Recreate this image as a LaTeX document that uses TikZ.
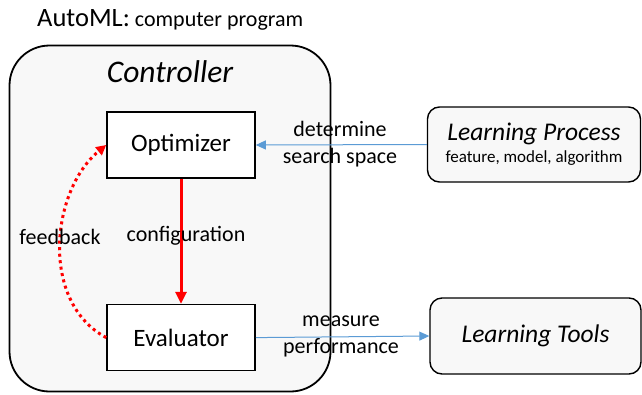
\documentclass[tikz,border=0pt]{standalone}
\usepackage{fontspec}
\setmainfont{Carlito}
\usepackage{tikz}
\usetikzlibrary{arrows.meta, positioning}
\definecolor{blaa}{HTML}{5B9BD5}
\definecolor{lysgraa}{HTML}{F8F8F8}

\begin{document}
\begin{tikzpicture}[
    x=1pt, y=-1pt,
    node distance = 5mm and 5mm,
    boks/.style = {rectangle, draw, line width=1.6pt, fill=white, minimum width=148pt, minimum height=66pt, font=\fontsize{25}{28}\selectfont},
    rund/.style = {rectangle, rounded corners=12pt, draw, line width=1.4pt, fill=lysgraa, minimum height=75pt, align=center},
    pil/.style = {blaa, line width=1pt, -{Triangle[length=10pt,width=9pt]}},
    rpil/.style = {red, line width=3pt, -{Triangle[length=12pt,width=11pt]}},
    prikk/.style = {red, line width=3pt, dash pattern=on 3pt off 3.5pt, -{Triangle[length=10pt,width=10pt]}},
    txt/.style = {font=\fontsize{22}{27}\selectfont, align=center, inner sep=0pt}
    ]
  \useasboundingbox (0,0) rectangle (642,394);

  \node[anchor=west, inner sep=0pt] (tittel) at (37,20) {{\fontsize{26.5}{28}\selectfont AutoML:}{\fontsize{22}{24}\selectfont{} computer program}};

  \node[rectangle, rounded corners=40pt, draw, line width=1.8pt, fill=lysgraa, minimum width=321pt, minimum height=346pt] (ctrl) at (170,218.5) {};
  \node[font=\fontsize{31.5}{34}\selectfont\itshape] (ctrltxt) at (170,72) {Controller};

  \node[boks] (opt) at (181,145) {Optimizer};
  \node[boks] (eval) [below=125pt of opt] {Evaluator};

  \node[rund, minimum width=213pt] (lp) at (534,144.5) {{\fontsize{25.5}{30}\selectfont\itshape Learning Process}\\[5pt]{\fontsize{17}{20}\selectfont feature, model, algorithm}};
  \node[rund, minimum width=211pt, minimum height=76pt, font=\fontsize{25.5}{30}\selectfont\itshape] (lt) at (535.5,336) {Learning Tools};

  \draw[pil] (lp.west) -- (opt.east);
  \draw[pil] (eval.east) -- (lt.west);
  \draw[rpil] (opt) -- (eval);
  \draw[prikk] (eval.west) .. controls +(-67,-36) and +(-55,45) .. (opt.west);

  \node[txt] (bestem) at (340,144) {determine\\search space};
  \node[txt] (maal) at (341,336.5) {measure\\performance};
  \node[txt] (konf) at (186,236) {configuration};
  \node[txt] (tilbake) at (60,237) {feedback};

\end{tikzpicture}
\end{document}
